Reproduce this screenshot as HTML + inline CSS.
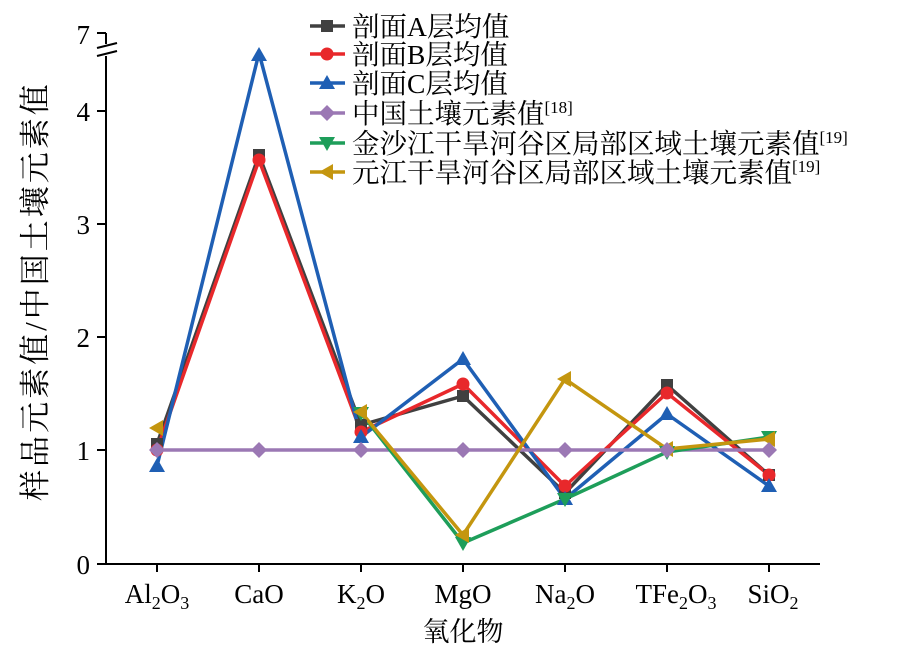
<!DOCTYPE html>
<html><head><meta charset="utf-8"><style>
body{margin:0;background:#fff}
text{font-family:"Liberation Serif","Noto Serif CJK SC","Noto Sans CJK SC",serif;fill:#000}
</style></head><body>
<svg width="921" height="648" viewBox="0 0 921 648" xmlns="http://www.w3.org/2000/svg">
<g stroke="#000" stroke-width="2" fill="none">
<line x1="106" y1="56" x2="106" y2="564"/>
<line x1="105" y1="564" x2="820" y2="564"/>
<line x1="106" y1="33" x2="106" y2="44"/>
<line x1="97" y1="33" x2="106" y2="33"/>
<line x1="97" y1="48" x2="117" y2="43"/>
<line x1="97" y1="56" x2="117" y2="51"/>
<line x1="97" y1="111" x2="106" y2="111"/>
<line x1="97" y1="224" x2="106" y2="224"/>
<line x1="97" y1="337" x2="106" y2="337"/>
<line x1="97" y1="450" x2="106" y2="450"/>
<line x1="97" y1="564" x2="106" y2="564"/>
<line x1="157" y1="564" x2="157" y2="572"/><line x1="259" y1="564" x2="259" y2="572"/><line x1="361" y1="564" x2="361" y2="572"/><line x1="463" y1="564" x2="463" y2="572"/><line x1="565" y1="564" x2="565" y2="572"/><line x1="667" y1="564" x2="667" y2="572"/><line x1="769" y1="564" x2="769" y2="572"/>
</g>
<g font-size="27" text-anchor="end">
<text x="90" y="44">7</text><text x="90" y="121">4</text><text x="90" y="234">3</text><text x="90" y="347">2</text><text x="90" y="460">1</text><text x="90" y="574">0</text>
</g>
<g font-size="27" text-anchor="middle">
<text x="157" y="603">Al<tspan font-size="18" dy="6">2</tspan><tspan dy="-6">O</tspan><tspan font-size="18" dy="6">3</tspan></text>
<text x="259" y="603">CaO</text>
<text x="361" y="603">K<tspan font-size="18" dy="6">2</tspan><tspan dy="-6">O</tspan></text>
<text x="463" y="603">MgO</text>
<text x="565" y="603">Na<tspan font-size="18" dy="6">2</tspan><tspan dy="-6">O</tspan></text>
<text x="676" y="603">TFe<tspan font-size="18" dy="6">2</tspan><tspan dy="-6">O</tspan><tspan font-size="18" dy="6">3</tspan></text>
<text x="773" y="603">SiO<tspan font-size="18" dy="6">2</tspan></text>
<text x="463" y="641" font-size="27">氧化物</text>
<text transform="translate(46,291) rotate(-90)" font-size="31" letter-spacing="3">样品元素值/中国土壤元素值</text>
</g>
<defs>
<rect id="sq" x="-6" y="-6" width="12" height="12" fill="#404040"/>
<circle id="ci" r="6.5" fill="#e8282b"/>
<path id="tu" d="M0,-8 L8,6 L-8,6Z" fill="#1f5fb4"/>
<path id="di" d="M0,-8 L8,0 L0,8 L-8,0Z" fill="#9b78b4"/>
<path id="td" d="M0,8 L8,-6 L-8,-6Z" fill="#1e9e5a"/>
<path id="tl" d="M-8,0 L6,-8 L6,8Z" fill="#c4960f"/>
</defs>
<g fill="none" stroke-width="3.5" stroke-linejoin="round">
<polyline stroke="#404040" points="157,444 259,155 361,425 463,396 565,493 667,385 769,475"/>
<polyline stroke="#e8282b" points="157,450 259,160 361,432 463,384 565,486 667,393 769,475"/>
<polyline stroke="#1f5fb4" points="157,466 259,53 361,437 463,359 565,499 667,414 769,486"/>
<polyline stroke="#9b78b4" points="157,450 259,450 361,450 463,450 565,450 667,450 769,450"/>
<polyline stroke="#1e9e5a" points="361,413 463,543 565,499 667,452 769,437"/>
<polyline stroke="#c4960f" points="361,412 463,535 565,379 667,449 769,439"/>
</g>
<g>
<use href="#sq" x="157" y="444"/><use href="#sq" x="259" y="155"/><use href="#sq" x="361" y="425"/><use href="#sq" x="463" y="396"/><use href="#sq" x="565" y="493"/><use href="#sq" x="667" y="385"/><use href="#sq" x="769" y="475"/>
<use href="#ci" x="157" y="450"/><use href="#ci" x="259" y="160"/><use href="#ci" x="361" y="432"/><use href="#ci" x="463" y="384"/><use href="#ci" x="565" y="486"/><use href="#ci" x="667" y="393"/><use href="#ci" x="769" y="475"/>
<use href="#tu" x="157" y="466"/><use href="#tu" x="259" y="55"/><use href="#tu" x="361" y="437"/><use href="#tu" x="463" y="359"/><use href="#tu" x="565" y="499"/><use href="#tu" x="667" y="414"/><use href="#tu" x="769" y="486"/>
<use href="#td" x="361" y="413"/><use href="#td" x="463" y="543"/><use href="#td" x="565" y="499"/><use href="#td" x="667" y="452"/><use href="#td" x="769" y="437"/>
<use href="#tl" x="157" y="428"/><use href="#tl" x="361" y="412"/><use href="#tl" x="463" y="535"/><use href="#tl" x="565" y="379"/><use href="#tl" x="667" y="449"/><use href="#tl" x="769" y="439"/>
<use href="#di" x="157" y="450"/><use href="#di" x="259" y="450"/><use href="#di" x="361" y="450"/><use href="#di" x="463" y="450"/><use href="#di" x="565" y="450"/><use href="#di" x="667" y="450"/><use href="#di" x="769" y="450"/>
</g>
<g stroke-width="3.5">
<line x1="310" y1="26" x2="345" y2="26" stroke="#404040"/><use href="#sq" x="327" y="26"/>
<line x1="310" y1="54" x2="345" y2="54" stroke="#e8282b"/><use href="#ci" x="327" y="54"/>
<line x1="310" y1="83" x2="345" y2="83" stroke="#1f5fb4"/><use href="#tu" x="327" y="83"/>
<line x1="310" y1="113" x2="345" y2="113" stroke="#9b78b4"/><use href="#di" x="327" y="113"/>
<line x1="310" y1="143" x2="345" y2="143" stroke="#1e9e5a"/><use href="#td" x="327" y="143"/>
<line x1="310" y1="172" x2="345" y2="172" stroke="#c4960f"/><use href="#tl" x="327" y="172"/>
</g>
<g font-size="27.5">
<text x="352" y="36">剖面A层均值</text>
<text x="352" y="64">剖面B层均值</text>
<text x="352" y="93">剖面C层均值</text>
<text x="352" y="123">中国土壤元素值<tspan font-size="17" dy="-10">[18]</tspan></text>
<text x="352" y="153">金沙江干旱河谷区局部区域土壤元素值<tspan font-size="17" dy="-10">[19]</tspan></text>
<text x="352" y="182">元江干旱河谷区局部区域土壤元素值<tspan font-size="17" dy="-10">[19]</tspan></text>
</g>
</svg>
</body></html>
